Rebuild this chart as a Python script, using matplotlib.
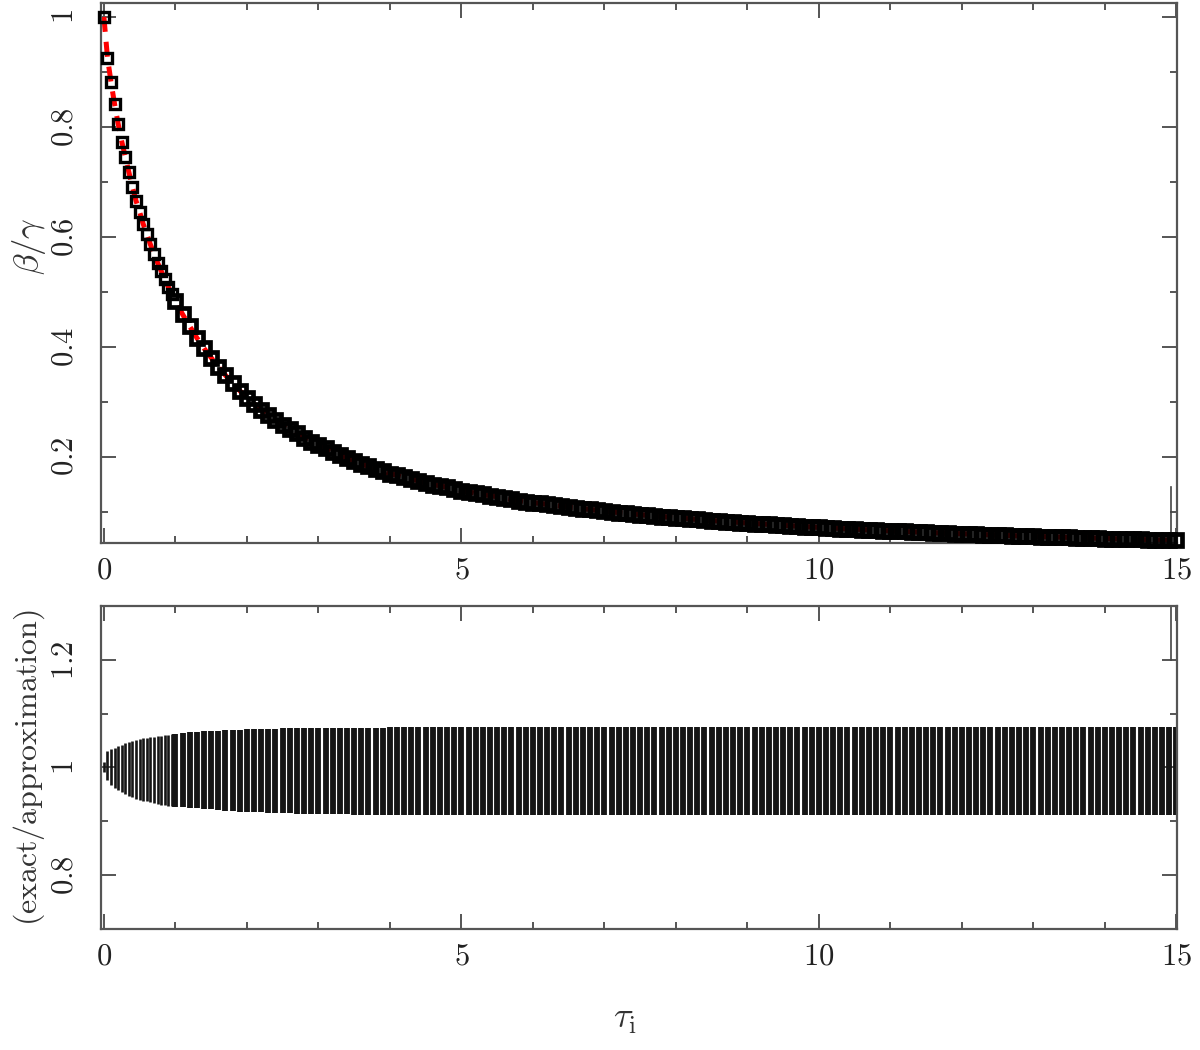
import numpy as np
import matplotlib
matplotlib.use('Agg')
import matplotlib.pyplot as plt
from matplotlib.ticker import MultipleLocator, FuncFormatter

plt.rcParams['mathtext.fontset'] = 'cm'

# tau grid: 0.05 steps below 1, 0.1 steps above
tau = np.concatenate([np.arange(0, 1.0, 0.05), np.arange(1.0, 15.0001, 0.1)])
n_fine = 20

# beta/gamma
beta_gamma = [
    1.000, 0.926, 0.881, 0.841, 0.805, 0.773, 0.745, 0.717, 0.690, 0.665,
    0.645, 0.623, 0.605, 0.586, 0.569, 0.553, 0.538, 0.523, 0.509, 0.495,
    0.483, 0.459, 0.437, 0.416, 0.397, 0.380, 0.363, 0.348, 0.333, 0.320,
    0.307, 0.296, 0.285, 0.276, 0.266, 0.258, 0.250, 0.242, 0.234, 0.227,
    0.221, 0.215, 0.209, 0.203, 0.197, 0.192, 0.187, 0.182, 0.178, 0.174,
    0.169, 0.166, 0.162, 0.159, 0.156, 0.152, 0.149, 0.147, 0.144, 0.141,
    0.138, 0.136, 0.133, 0.131, 0.129, 0.127, 0.124, 0.122, 0.120, 0.118,
    0.116, 0.115, 0.113, 0.111, 0.110, 0.108, 0.107, 0.105, 0.104, 0.102,
    0.101, 0.0994, 0.0981, 0.0968, 0.0956, 0.0943, 0.0931, 0.0920, 0.0909, 0.0897,
    0.0887, 0.0876, 0.0866, 0.0855, 0.0845, 0.0836, 0.0826, 0.0817, 0.0808, 0.0799,
    0.0790, 0.0782, 0.0773, 0.0765, 0.0757, 0.0749, 0.0741, 0.0734, 0.0726, 0.0719,
    0.0712, 0.0705, 0.0698, 0.0691, 0.0685, 0.0678, 0.0672, 0.0666, 0.0660, 0.0654,
    0.0648, 0.0642, 0.0637, 0.0631, 0.0625, 0.0620, 0.0615, 0.0609, 0.0604, 0.0599,
    0.0594, 0.0589, 0.0584, 0.0580, 0.0575, 0.0570, 0.0566, 0.0561, 0.0557, 0.0553,
    0.0548, 0.0544, 0.0540, 0.0536, 0.0532, 0.0528, 0.0524, 0.0520, 0.0516, 0.0512,
    0.0509, 0.0505, 0.0501, 0.0498, 0.0494, 0.0491, 0.0487, 0.0484, 0.0481, 0.0477,
    0.0474,
]

# exact/approximation range, lower panel
ratio_hi = [
    1.010, 1.030, 1.034, 1.036, 1.039, 1.042, 1.045, 1.047, 1.049, 1.051,
    1.052, 1.054, 1.055, 1.056, 1.057, 1.058, 1.059, 1.060, 1.061, 1.062,
    1.063, 1.064, 1.065, 1.066, 1.067, 1.068, 1.068, 1.069, 1.070, 1.070,
    1.071, 1.071, 1.072, 1.072, 1.072, 1.073, 1.073, 1.073, 1.073, 1.074,
    1.074, 1.074, 1.074, 1.074, 1.074, 1.074, 1.074, 1.074, 1.074, 1.074,
    1.075, 1.075, 1.075, 1.075, 1.075, 1.075, 1.075, 1.075, 1.075, 1.075,
    1.075, 1.075, 1.075, 1.075, 1.075, 1.075, 1.075, 1.075, 1.075, 1.075,
    1.075, 1.075, 1.075, 1.075, 1.075, 1.075, 1.075, 1.075, 1.075, 1.075,
    1.075, 1.075, 1.075, 1.075, 1.075, 1.075, 1.075, 1.075, 1.075, 1.075,
    1.075, 1.075, 1.075, 1.075, 1.075, 1.075, 1.075, 1.075, 1.075, 1.075,
    1.075, 1.075, 1.075, 1.075, 1.075, 1.075, 1.075, 1.075, 1.075, 1.075,
    1.075, 1.075, 1.075, 1.075, 1.075, 1.075, 1.075, 1.075, 1.075, 1.075,
    1.075, 1.075, 1.075, 1.075, 1.075, 1.075, 1.075, 1.075, 1.075, 1.075,
    1.075, 1.075, 1.075, 1.075, 1.075, 1.075, 1.075, 1.075, 1.075, 1.075,
    1.075, 1.075, 1.075, 1.075, 1.075, 1.075, 1.075, 1.075, 1.075, 1.075,
    1.075, 1.075, 1.075, 1.075, 1.075, 1.075, 1.075, 1.075, 1.075, 1.075,
    1.075,
]
ratio_lo = [
    0.992, 0.977, 0.967, 0.962, 0.958, 0.954, 0.950, 0.947, 0.945, 0.942,
    0.940, 0.938, 0.937, 0.935, 0.934, 0.932, 0.931, 0.930, 0.929, 0.928,
    0.927, 0.926, 0.925, 0.924, 0.923, 0.922, 0.921, 0.920, 0.919, 0.918,
    0.918, 0.917, 0.917, 0.916, 0.916, 0.915, 0.915, 0.914, 0.914, 0.914,
    0.913, 0.913, 0.913, 0.913, 0.913, 0.912, 0.912, 0.912, 0.912, 0.912,
    0.911, 0.911, 0.911, 0.911, 0.911, 0.911, 0.911, 0.911, 0.911, 0.911,
    0.911, 0.911, 0.911, 0.911, 0.911, 0.911, 0.911, 0.911, 0.911, 0.911,
    0.911, 0.911, 0.911, 0.911, 0.911, 0.911, 0.911, 0.911, 0.911, 0.911,
    0.911, 0.911, 0.911, 0.911, 0.911, 0.911, 0.911, 0.911, 0.911, 0.911,
    0.911, 0.911, 0.911, 0.911, 0.911, 0.911, 0.911, 0.911, 0.911, 0.911,
    0.911, 0.911, 0.911, 0.911, 0.911, 0.911, 0.911, 0.911, 0.911, 0.911,
    0.911, 0.911, 0.911, 0.911, 0.911, 0.911, 0.911, 0.911, 0.911, 0.911,
    0.911, 0.911, 0.911, 0.911, 0.911, 0.911, 0.911, 0.911, 0.911, 0.911,
    0.911, 0.911, 0.911, 0.911, 0.911, 0.911, 0.911, 0.911, 0.911, 0.911,
    0.911, 0.911, 0.911, 0.911, 0.911, 0.911, 0.911, 0.911, 0.911, 0.911,
    0.911, 0.911, 0.911, 0.911, 0.911, 0.911, 0.911, 0.911, 0.911, 0.911,
    0.911,
]

# stray error bar near the right edge of both panels
spike_tau = 14.92
spike_top = [0.043, 0.145]
spike_bottom = [1.2, 1.32]

AXCOL = '#555555'
fmt = FuncFormatter(lambda v, p: r'$%g$' % round(v, 3))


def style(ax, ymaj, ymin):
    for s in ax.spines.values():
        s.set_color(AXCOL)
        s.set_linewidth(1.6)
    ax.xaxis.set_major_locator(MultipleLocator(5))
    ax.xaxis.set_minor_locator(MultipleLocator(1))
    ax.yaxis.set_major_locator(MultipleLocator(ymaj))
    ax.yaxis.set_minor_locator(MultipleLocator(ymin))
    ax.xaxis.set_major_formatter(fmt)
    ax.yaxis.set_major_formatter(fmt)
    ax.tick_params(which='both', direction='in', top=True, right=True,
                   colors=AXCOL, labelcolor='#222222', labelsize=22, width=1.4)
    ax.tick_params(which='major', length=11)
    ax.tick_params(which='minor', length=5)
    ax.tick_params(axis='x', pad=9)
    ax.tick_params(axis='y', labelrotation=90, pad=16)
    for lab in ax.get_yticklabels():
        lab.set_va('center')
    ax.set_xlim(-0.04, 15.01)


fig = plt.figure(figsize=(12, 10.5), dpi=100)
ax1 = fig.add_axes([0.0842, 0.483, 0.8967, 0.514])
ax2 = fig.add_axes([0.0842, 0.1152, 0.8967, 0.3077])

# upper panel: red dashed curve under hollow squares
ax1.plot(tau, beta_gamma, color='red', lw=3.6, ls=(0, (3, 2)), zorder=2)
ax1.plot(tau[:n_fine], beta_gamma[:n_fine], ls='none', marker='s', ms=7.6,
         mfc='none', mec='black', mew=2.4, zorder=3, clip_on=False)
ax1.plot(tau[n_fine:], beta_gamma[n_fine:], ls='none', marker='s', ms=8.3,
         mfc='none', mec='black', mew=3.4, zorder=3, clip_on=False)
ax1.plot([spike_tau, spike_tau], spike_top, color='#444444', lw=1.2)
ax1.set_ylim(0.043, 1.025)
style(ax1, 0.2, 0.1)
ax1.set_ylabel(r'$\beta/\gamma$', fontsize=25, color='#333333')
ax1.yaxis.set_label_coords(-0.049, 0.55)

# lower panel
ax2.vlines(tau[:n_fine], ratio_lo[:n_fine], ratio_hi[:n_fine],
           color='#151515', lw=1.9)
ax2.vlines(tau[n_fine:], ratio_lo[n_fine:], ratio_hi[n_fine:],
           color='#151515', lw=4.2)
ax2.plot([spike_tau, spike_tau], spike_bottom, color='#444444', lw=1.2)
ax2.set_ylim(0.7, 1.3)
style(ax2, 0.2, 0.1)
ax2.set_ylabel(r'$\mathrm{(exact/approximation)}$', fontsize=23, color='#333333')
ax2.yaxis.set_label_coords(-0.05, 0.5)
ax2.set_xlabel(r'$\tau_{\rm i}$', fontsize=26, color='#333333')
ax2.xaxis.set_label_coords(0.487, -0.225)

fig.savefig('out.png', dpi=100)
